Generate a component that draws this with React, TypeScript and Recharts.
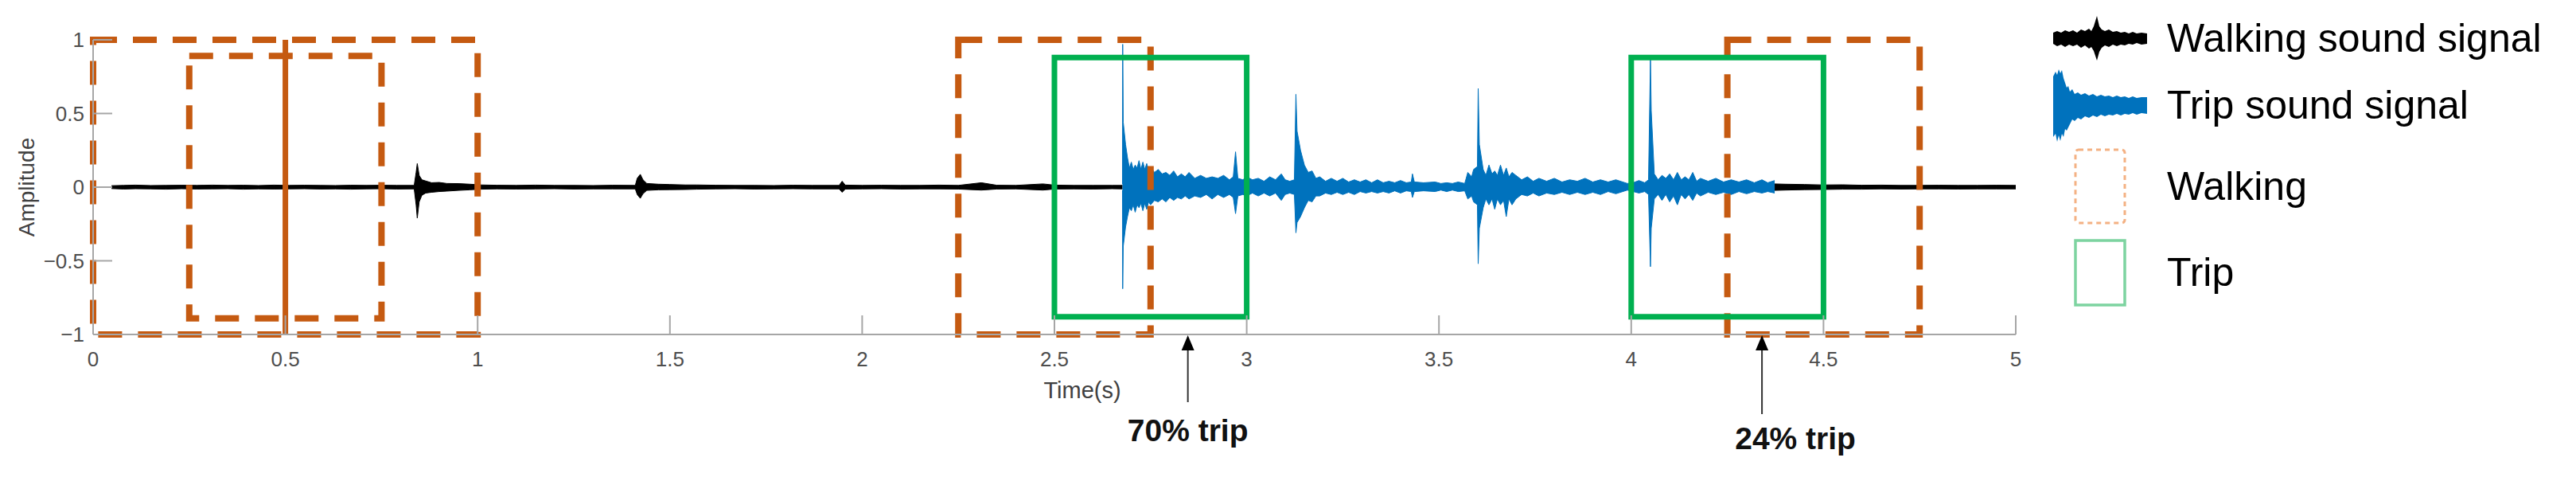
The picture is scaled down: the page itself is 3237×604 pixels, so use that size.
import React from "react";
import {
  ComposedChart,
  Area,
  XAxis,
  YAxis,
  ReferenceArea,
  ReferenceLine,
  ReferenceDot,
} from "recharts";

const FONT = '"Liberation Sans", Arial, Helvetica, sans-serif';
const ORANGE = "#C55A11";
const GREEN = "#00B050";
const BLUE = "#0072BD";
const AXIS_GRAY = "#a6a6a6";
const TEXT_GRAY = "#4d4d4d";

// plot box inside the 3237x604 canvas
const PLOT_LEFT = 117;
const PLOT_TOP = 50;
const PLOT_BOTTOM = 420;

// envelope of the sound signal: [time (s), lower, upper]
const walkHead = [
  [0.048, -0.01, 0.01], [0.08, -0.013, 0.012], [0.11, -0.011, 0.014], [0.15, -0.012, 0.011],
  [0.19, -0.014, 0.012], [0.23, -0.011, 0.013], [0.27, -0.013, 0.012], [0.31, -0.012, 0.014],
  [0.35, -0.011, 0.012], [0.39, -0.014, 0.013], [0.43, -0.012, 0.011], [0.47, -0.013, 0.014],
  [0.51, -0.012, 0.012], [0.55, -0.011, 0.013], [0.59, -0.013, 0.012], [0.63, -0.012, 0.011],
  [0.67, -0.014, 0.013], [0.71, -0.012, 0.012], [0.75, -0.011, 0.013], [0.79, -0.013, 0.012],
  [0.835, -0.012, 0.012], [0.84, -0.12, 0.1], [0.843, -0.21, 0.16], [0.848, -0.1, 0.08],
  [0.855, -0.055, 0.05], [0.865, -0.04, 0.042], [0.88, -0.035, 0.03], [0.9, -0.03, 0.032],
  [0.92, -0.027, 0.025], [0.95, -0.022, 0.024], [0.98, -0.018, 0.02], [1.01, -0.014, 0.015],
  [1.05, -0.012, 0.013], [1.1, -0.013, 0.012], [1.15, -0.012, 0.014], [1.2, -0.011, 0.012],
  [1.25, -0.013, 0.012], [1.3, -0.012, 0.011], [1.35, -0.012, 0.013], [1.41, -0.012, 0.012],
  [1.415, -0.05, 0.06], [1.423, -0.076, 0.087], [1.43, -0.045, 0.05], [1.44, -0.022, 0.025],
  [1.47, -0.018, 0.02], [1.5, -0.017, 0.018], [1.54, -0.016, 0.015], [1.57, -0.014, 0.015],
  [1.62, -0.012, 0.013], [1.67, -0.011, 0.012], [1.72, -0.013, 0.012], [1.77, -0.012, 0.011],
  [1.82, -0.011, 0.013], [1.87, -0.012, 0.012], [1.94, -0.012, 0.012], [1.948, -0.035, 0.04],
  [1.956, -0.013, 0.014], [2.0, -0.012, 0.012], [2.05, -0.011, 0.013], [2.1, -0.013, 0.012],
  [2.15, -0.012, 0.012], [2.2, -0.012, 0.014], [2.25, -0.013, 0.012], [2.31, -0.02, 0.03],
  [2.35, -0.013, 0.013], [2.4, -0.012, 0.012], [2.47, -0.02, 0.022], [2.5, -0.013, 0.014],
  [2.55, -0.012, 0.012], [2.6, -0.013, 0.012], [2.65, -0.011, 0.012], [2.677, -0.012, 0.012],
];

const walkTail = [
  [4.373, -0.022, 0.022], [4.4, -0.02, 0.02], [4.45, -0.017, 0.018], [4.5, -0.016, 0.015],
  [4.55, -0.014, 0.016], [4.6, -0.014, 0.013], [4.65, -0.012, 0.014], [4.7, -0.013, 0.012],
  [4.75, -0.012, 0.012], [4.8, -0.012, 0.013], [4.85, -0.013, 0.012], [4.9, -0.012, 0.012],
  [4.95, -0.012, 0.013], [5.0, -0.012, 0.012],
];

const tripSignal = [
  [2.677, -0.02, 0.02], [2.6775, -0.69, 0.97], [2.679, -0.4, 0.44], [2.685, -0.27, 0.29],
  [2.69, -0.2, 0.2], [2.695, -0.14, 0.13], [2.7, -0.16, 0.17], [2.705, -0.12, 0.12],
  [2.71, -0.17, 0.15], [2.715, -0.12, 0.13], [2.72, -0.14, 0.18], [2.725, -0.11, 0.12],
  [2.73, -0.16, 0.17], [2.735, -0.11, 0.12], [2.74, -0.15, 0.16], [2.745, -0.1, 0.11],
  [2.75, -0.12, 0.14], [2.76, -0.09, 0.1], [2.77, -0.1, 0.12], [2.78, -0.08, 0.09],
  [2.79, -0.1, 0.1], [2.8, -0.07, 0.08], [2.81, -0.09, 0.11], [2.82, -0.07, 0.07],
  [2.83, -0.08, 0.09], [2.84, -0.06, 0.07], [2.85, -0.08, 0.1], [2.865, -0.06, 0.06],
  [2.88, -0.07, 0.08], [2.895, -0.05, 0.06], [2.91, -0.08, 0.07], [2.925, -0.05, 0.06],
  [2.94, -0.07, 0.08], [2.955, -0.05, 0.05], [2.965, -0.07, 0.07], [2.971, -0.18, 0.24],
  [2.977, -0.06, 0.06], [2.99, -0.05, 0.05], [3.0, -0.06, 0.07], [3.015, -0.04, 0.05],
  [3.03, -0.06, 0.06], [3.045, -0.04, 0.04], [3.06, -0.06, 0.07], [3.075, -0.04, 0.05],
  [3.09, -0.09, 0.09], [3.1, -0.05, 0.05], [3.112, -0.04, 0.04], [3.124, -0.05, 0.05],
  [3.128, -0.31, 0.63], [3.131, -0.24, 0.38], [3.14, -0.2, 0.25], [3.15, -0.14, 0.15],
  [3.16, -0.09, 0.1], [3.17, -0.1, 0.11], [3.18, -0.06, 0.06], [3.19, -0.06, 0.07],
  [3.205, -0.04, 0.04], [3.22, -0.05, 0.06], [3.235, -0.035, 0.04], [3.25, -0.05, 0.06],
  [3.265, -0.035, 0.035], [3.28, -0.05, 0.05], [3.295, -0.03, 0.035], [3.31, -0.04, 0.05],
  [3.325, -0.03, 0.03], [3.34, -0.04, 0.05], [3.355, -0.03, 0.03], [3.37, -0.04, 0.04],
  [3.385, -0.025, 0.03], [3.4, -0.04, 0.045], [3.415, -0.025, 0.03], [3.428, -0.03, 0.035],
  [3.431, -0.07, 0.09], [3.436, -0.03, 0.035], [3.46, -0.025, 0.03], [3.49, -0.03, 0.035],
  [3.505, -0.02, 0.025], [3.52, -0.03, 0.03], [3.535, -0.02, 0.025], [3.55, -0.03, 0.035],
  [3.567, -0.025, 0.025], [3.575, -0.08, 0.1], [3.585, -0.06, 0.07], [3.59, -0.1, 0.12],
  [3.6, -0.12, 0.14], [3.602, -0.52, 0.67], [3.605, -0.28, 0.29], [3.615, -0.14, 0.12],
  [3.622, -0.08, 0.08], [3.63, -0.12, 0.15], [3.638, -0.08, 0.09], [3.645, -0.15, 0.11],
  [3.652, -0.08, 0.08], [3.66, -0.12, 0.15], [3.668, -0.09, 0.08], [3.675, -0.2, 0.13],
  [3.682, -0.08, 0.07], [3.69, -0.12, 0.1], [3.7, -0.08, 0.08], [3.715, -0.05, 0.05],
  [3.73, -0.06, 0.07], [3.745, -0.04, 0.04], [3.76, -0.06, 0.06], [3.78, -0.04, 0.04],
  [3.8, -0.05, 0.06], [3.82, -0.035, 0.035], [3.84, -0.05, 0.05], [3.86, -0.035, 0.04],
  [3.88, -0.05, 0.06], [3.9, -0.035, 0.035], [3.92, -0.05, 0.05], [3.94, -0.03, 0.035],
  [3.96, -0.045, 0.05], [3.99, -0.02, 0.025], [4.005, -0.03, 0.03], [4.02, -0.04, 0.045],
  [4.035, -0.03, 0.03], [4.045, -0.05, 0.05], [4.05, -0.54, 0.87], [4.052, -0.28, 0.52],
  [4.06, -0.08, 0.09], [4.07, -0.05, 0.05], [4.08, -0.09, 0.08], [4.09, -0.05, 0.06],
  [4.1, -0.1, 0.09], [4.11, -0.06, 0.05], [4.12, -0.12, 0.1], [4.13, -0.05, 0.05],
  [4.14, -0.08, 0.07], [4.15, -0.05, 0.05], [4.16, -0.09, 0.1], [4.17, -0.04, 0.04],
  [4.18, -0.06, 0.06], [4.2, -0.035, 0.04], [4.22, -0.05, 0.06], [4.24, -0.035, 0.035],
  [4.26, -0.05, 0.05], [4.28, -0.03, 0.035], [4.3, -0.045, 0.05], [4.32, -0.03, 0.03],
  [4.34, -0.04, 0.05], [4.355, -0.03, 0.03], [4.373, -0.04, 0.045],
];

const xTicks = [0, 0.5, 1, 1.5, 2, 2.5, 3, 3.5, 4, 4.5, 5];
const yTicks = [-1, -0.5, 0, 0.5, 1];

// [x1, x2, y1, y2]
const walkingBoxes = [
  [0, 1, -1, 1],
  [0.25, 0.75, -0.89, 0.89],
  [2.25, 2.75, -1, 1],
  [4.25, 4.75, -1, 1],
];
const walkingSplit = [0.5];
const tripBoxes = [
  [2.5, 3, -0.88, 0.88],
  [4, 4.5, -0.88, 0.88],
];

const tripMarkTimes = [2.847, 4.34];
const tripMarkLabels = ["70% trip", "24% trip"];
const ARROW_LEN = [84, 99];
const LABEL_DX = [0, 42];
const LABEL_DY = [120, 130];

const legendLabels = ["Walking sound signal", "Trip sound signal", "Walking", "Trip"];
const LEGEND_ROW_Y = [48, 132, 234, 342];

const toRows = (arr: number[][]) => arr.map(([t, lo, hi]) => ({ t, band: [lo, hi] }));

const fmt = (v: number) => (v < 0 ? "\u2212" + String(-v) : String(v));

const XTick = ({ x, payload }: any) => (
  <g>
    <line x1={x} x2={x} y1={PLOT_BOTTOM} y2={PLOT_BOTTOM - 24} stroke={AXIS_GRAY} strokeWidth={2} />
    <text x={x} y={PLOT_BOTTOM + 31} textAnchor="middle" dominantBaseline="central"
      fontSize={26} fill={TEXT_GRAY} fontFamily={FONT}>
      {fmt(payload.value)}
    </text>
  </g>
);

const YTick = ({ y, payload }: any) => (
  <g>
    <line x1={PLOT_LEFT} x2={PLOT_LEFT + 24} y1={y} y2={y} stroke={AXIS_GRAY} strokeWidth={2} />
    <text x={PLOT_LEFT - 11} y={y} textAnchor="end" dominantBaseline="central"
      fontSize={26} fill={TEXT_GRAY} fontFamily={FONT}>
      {fmt(payload.value)}
    </text>
  </g>
);

const arrowShape = (i: number) => (props: any) => {
  const { cx, cy } = props;
  const tip = cy + 1;
  return (
    <g>
      <line x1={cx} x2={cx} y1={tip + 16} y2={tip + ARROW_LEN[i]} stroke="#333" strokeWidth={2} />
      <path d={`M${cx},${tip} L${cx - 8},${tip + 19} L${cx + 8},${tip + 19} Z`} fill="#000" />
      <text x={cx + LABEL_DX[i]} y={cy + LABEL_DY[i]} textAnchor="middle" dominantBaseline="central"
        fontSize={39} fontWeight="bold" fill="#111" fontFamily={FONT}>
        {tripMarkLabels[i]}
      </text>
    </g>
  );
};

const legendIcons = [
  <polygon key="w" fill="#000"
    points="5,43 10,41 15,43 20,40 25,42 30,40 35,43 40,39 45,41 50,38 53,41 56,35 60,22 63,35 66,39 70,41 75,39 80,42 85,41 90,43 95,42 100,44 105,42 110,44 116,43 123,44 123,57 116,58 110,56 105,58 100,57 95,59 90,58 85,60 80,58 75,61 70,59 66,62 63,67 60,78 56,66 53,61 50,63 45,59 40,62 35,58 30,60 25,58 20,61 15,58 10,60 5,57" />,
  <polygon key="t" fill={BLUE}
    points="5,14 8,8 10,12 12,5 14,10 16,6 18,16 20,22 22,28 24,26 26,33 29,30 32,36 36,34 40,37 45,35 50,38 55,36 60,39 65,37 70,39 75,38 80,40 85,38 90,40 95,39 100,41 105,39 110,41 116,40 123,40 123,61 116,60 110,62 105,60 100,62 95,61 90,63 85,61 80,63 75,62 70,64 65,62 60,65 55,63 50,66 45,64 40,68 36,66 32,70 29,68 26,74 24,78 22,82 20,80 18,90 16,86 14,95 12,88 10,96 8,86 5,90" />,
  <rect key="wb" x={33} y={4} width={62} height={92} rx={4} fill="none" stroke="#F4B183" strokeWidth={3} strokeDasharray="6 5" />,
  <rect key="tb" x={33} y={10} width={62} height={81} fill="none" stroke="#7DD3A0" strokeWidth={3.5} />,
];

const LegendBox = () => (
  <div style={{ position: "absolute", left: 2575, top: 0, width: 662, height: 420, fontFamily: FONT }}>
    {legendLabels.map((label, i) => (
      <div key={label} style={{ position: "absolute", left: 0, top: LEGEND_ROW_Y[i] - 50, height: 100, display: "flex", alignItems: "center" }}>
        <svg width={140} height={100}>{legendIcons[i]}</svg>
        <span style={{ fontSize: 50, marginLeft: 8, color: "#000", whiteSpace: "nowrap", lineHeight: 1 }}>{label}</span>
      </div>
    ))}
  </div>
);

export default function App() {
  return (
    <div style={{ width: 3237, height: 604, background: "#fff", position: "relative" }}>
      <style>{"body{margin:0}"}</style>
      <ComposedChart width={3237} height={604} margin={{ top: PLOT_TOP, right: 704, bottom: 144, left: 47 }}>
        <XAxis dataKey="t" type="number" domain={[0, 5]} ticks={xTicks} allowDataOverflow
          height={40} tickLine={false} axisLine={{ stroke: AXIS_GRAY, strokeWidth: 2 }} tick={<XTick />} interval={0}
          label={{
            content: () => (
              <text x={1360} y={490} textAnchor="middle" dominantBaseline="central" fontSize={29} fill="#404040" fontFamily={FONT}>
                Time(s)
              </text>
            ),
          }} />
        <YAxis type="number" domain={[-1, 1]} ticks={yTicks} allowDataOverflow width={70} tickLine={false}
          axisLine={{ stroke: AXIS_GRAY, strokeWidth: 2 }} tick={<YTick />} interval={0}
          label={{
            content: () => (
              <text x={33} y={235} textAnchor="middle" dominantBaseline="central" fontSize={28} fill="#404040"
                fontFamily={FONT} transform="rotate(-90 33 235)">
                Amplitude
              </text>
            ),
          }} />
        <Area data={toRows(walkHead)} dataKey="band" type="linear" stroke="#000" strokeWidth={1} fill="#000"
          fillOpacity={1} dot={false} activeDot={false} isAnimationActive={false} />
        <Area data={toRows(walkTail)} dataKey="band" type="linear" stroke="#000" strokeWidth={1} fill="#000"
          fillOpacity={1} dot={false} activeDot={false} isAnimationActive={false} />
        <Area data={toRows(tripSignal)} dataKey="band" type="linear" stroke={BLUE} strokeWidth={1} fill={BLUE}
          fillOpacity={1} dot={false} activeDot={false} isAnimationActive={false} />
        {walkingBoxes.map(([x1, x2, y1, y2], i) => (
          <ReferenceArea key={`w${i}`} x1={x1} x2={x2} y1={y1} y2={y2} fill="none" fillOpacity={0}
            stroke={ORANGE} strokeWidth={8} strokeDasharray="30 20" ifOverflow="visible" />
        ))}
        {walkingSplit.map((x) => (
          <ReferenceLine key={`s${x}`} x={x} stroke={ORANGE} strokeWidth={7} ifOverflow="visible" />
        ))}
        {tripBoxes.map(([x1, x2, y1, y2], i) => (
          <ReferenceArea key={`t${i}`} x1={x1} x2={x2} y1={y1} y2={y2} fill="none" fillOpacity={0}
            stroke={GREEN} strokeWidth={7} ifOverflow="visible" />
        ))}
        {tripMarkTimes.map((t, i) => (
          <ReferenceDot key={`m${i}`} x={t} y={-1} r={0} ifOverflow="visible" shape={arrowShape(i)} />
        ))}
      </ComposedChart>
      <LegendBox />
    </div>
  );
}
